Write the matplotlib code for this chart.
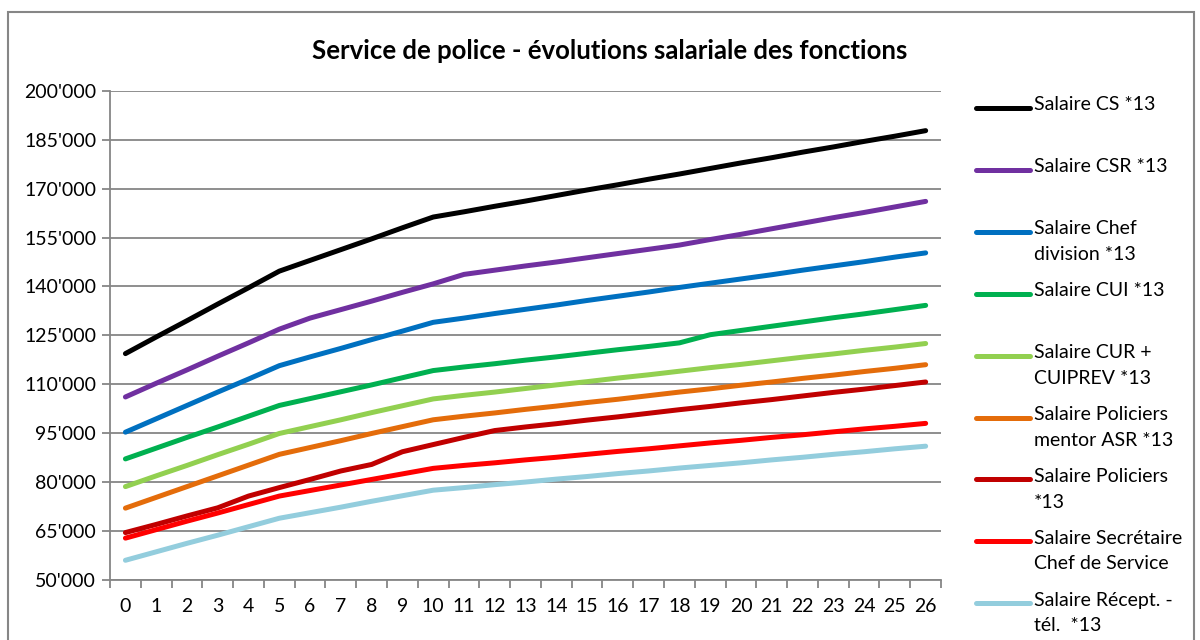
import matplotlib.pyplot as plt
from matplotlib.lines import Line2D
from matplotlib.patches import Rectangle
from matplotlib.ticker import FuncFormatter, FixedLocator

plt.rcParams['font.family'] = ['Lato', 'DejaVu Sans']

annees = list(range(27))

salaire_cs = [119400, 124500, 129500, 134600, 139600, 144700, 148000, 151300, 154600,
              158000, 161300, 162900, 164600, 166200, 167900, 169600, 171200, 172900,
              174500, 176200, 177900, 179500, 181200, 182800, 184500, 186100, 187800]
salaire_csr = [106100, 110300, 114400, 118600, 122700, 126900, 130300, 132900, 135500,
               138200, 140800, 143700, 145000, 146300, 147500, 148800, 150100, 151400,
               152700, 154400, 156000, 157700, 159400, 161100, 162700, 164400, 166100]
salaire_chef_div = [95300, 99400, 103500, 107600, 111600, 115700, 118400, 121000, 123700,
                    126300, 129000, 130300, 131700, 133000, 134300, 135700, 137000, 138300,
                    139700, 141000, 142300, 143600, 145000, 146300, 147600, 149000, 150300]
salaire_cui = [87100, 90400, 93700, 96900, 100200, 103500, 105600, 107700, 109800,
               112000, 114200, 115300, 116300, 117400, 118400, 119500, 120600, 121600,
               122700, 125200, 126500, 127800, 129100, 130400, 131600, 132900, 134200]
salaire_cur = [78600, 81900, 85100, 88400, 91600, 94900, 97000, 99100, 101300,
               103400, 105500, 106600, 107600, 108700, 109800, 110800, 111900, 112900,
               114000, 115100, 116100, 117200, 118300, 119300, 120400, 121400, 122500]
salaire_mentor = [72000, 75300, 78600, 81900, 85200, 88500, 90600, 92700, 94900,
                  97000, 99100, 100200, 101200, 102300, 103300, 104400, 105400, 106500,
                  107600, 108600, 109700, 110700, 111800, 112800, 113900, 114900, 116000]
salaire_policiers = [64500, 67000, 69600, 72100, 75700, 78300, 80800, 83400, 85400,
                     89300, 91500, 93700, 95800, 96900, 97900, 99000, 100000, 101100,
                     102200, 103200, 104300, 105300, 106400, 107500, 108500, 109600, 110700]
salaire_secretaire = [62800, 65400, 68000, 70500, 73100, 75700, 77400, 79100, 80800,
                      82500, 84200, 85100, 85900, 86800, 87600, 88500, 89400, 90200,
                      91100, 92000, 92800, 93700, 94500, 95400, 96300, 97100, 98000]
salaire_recept = [56000, 58600, 61200, 63700, 66300, 68900, 70600, 72300, 74100,
                  75800, 77500, 78300, 79200, 80000, 80900, 81700, 82600, 83400,
                  84300, 85100, 85900, 86800, 87600, 88500, 89300, 90200, 91000]

series = [
    (salaire_cs, '#000000', 'Salaire CS *13'),
    (salaire_csr, '#7030A0', 'Salaire CSR *13'),
    (salaire_chef_div, '#0070C0', 'Salaire Chef\ndivision *13'),
    (salaire_cui, '#00B050', 'Salaire CUI *13'),
    (salaire_cur, '#92D050', 'Salaire CUR +\nCUIPREV *13'),
    (salaire_mentor, '#E46C0A', 'Salaire Policiers\nmentor ASR *13'),
    (salaire_policiers, '#C00000', 'Salaire Policiers\n*13'),
    (salaire_secretaire, '#FF0000', 'Salaire Secrétaire\nChef de Service'),
    (salaire_recept, '#93CDDD', 'Salaire Récept. -\ntél.  *13'),
]

fig = plt.figure(figsize=(12, 6.4), dpi=100)
ax = fig.add_axes([0.0917, 0.094, 0.6925, 0.764])

grid_col = '#868686'
for vals, col, lab in series:
    ax.plot(annees, vals, color=col, lw=3.6, solid_capstyle='round',
            solid_joinstyle='round', zorder=3)

ax.set_xlim(-0.5, 26.5)
ax.set_ylim(50000, 200000)
ax.set_yticks(range(50000, 200001, 15000))
ax.yaxis.set_major_formatter(FuncFormatter(lambda v, p: f"{int(v)//1000}'000"))
ax.set_xticks(annees)
ax.set_xticklabels([str(a) for a in annees])
ax.xaxis.set_minor_locator(FixedLocator([a - 0.5 for a in range(28)]))
ax.tick_params(axis='x', which='major', length=0, pad=13, labelsize=14)
ax.tick_params(axis='x', which='minor', length=6, color=grid_col, width=1.3)
ax.tick_params(axis='y', length=6, color=grid_col, width=1.3, labelsize=14, pad=4)
ax.grid(axis='y', color=grid_col, lw=1.3, zorder=0)
for s in ['top', 'right']:
    ax.spines[s].set_visible(False)
for s in ['left', 'bottom']:
    ax.spines[s].set_color(grid_col)
    ax.spines[s].set_linewidth(1.3)

fig.text(0.508, 0.921, 'Service de police - évolutions salariale des fonctions',
         ha='center', va='center', fontsize=18.5, fontweight='bold')

# légende dessinée à la main
y0 = 108
for i, (vals, col, lab) in enumerate(series):
    y = 1 - (y0 + i * 61.9) / 640
    fig.add_artist(Line2D([976 / 1200, 1030 / 1200], [y, y], color=col, lw=3.6,
                          solid_capstyle='round', transform=fig.transFigure))
    fig.text(1034 / 1200, y + 0.018, lab, ha='left', va='top', fontsize=14,
             linespacing=1.62)

fig.add_artist(Rectangle((8 / 1200, -0.05), 1186 / 1200, 1 - 12 / 640 + 0.05,
                         transform=fig.transFigure, fill=False,
                         edgecolor=grid_col, lw=1.5))

fig.savefig('out.png', dpi=100)
